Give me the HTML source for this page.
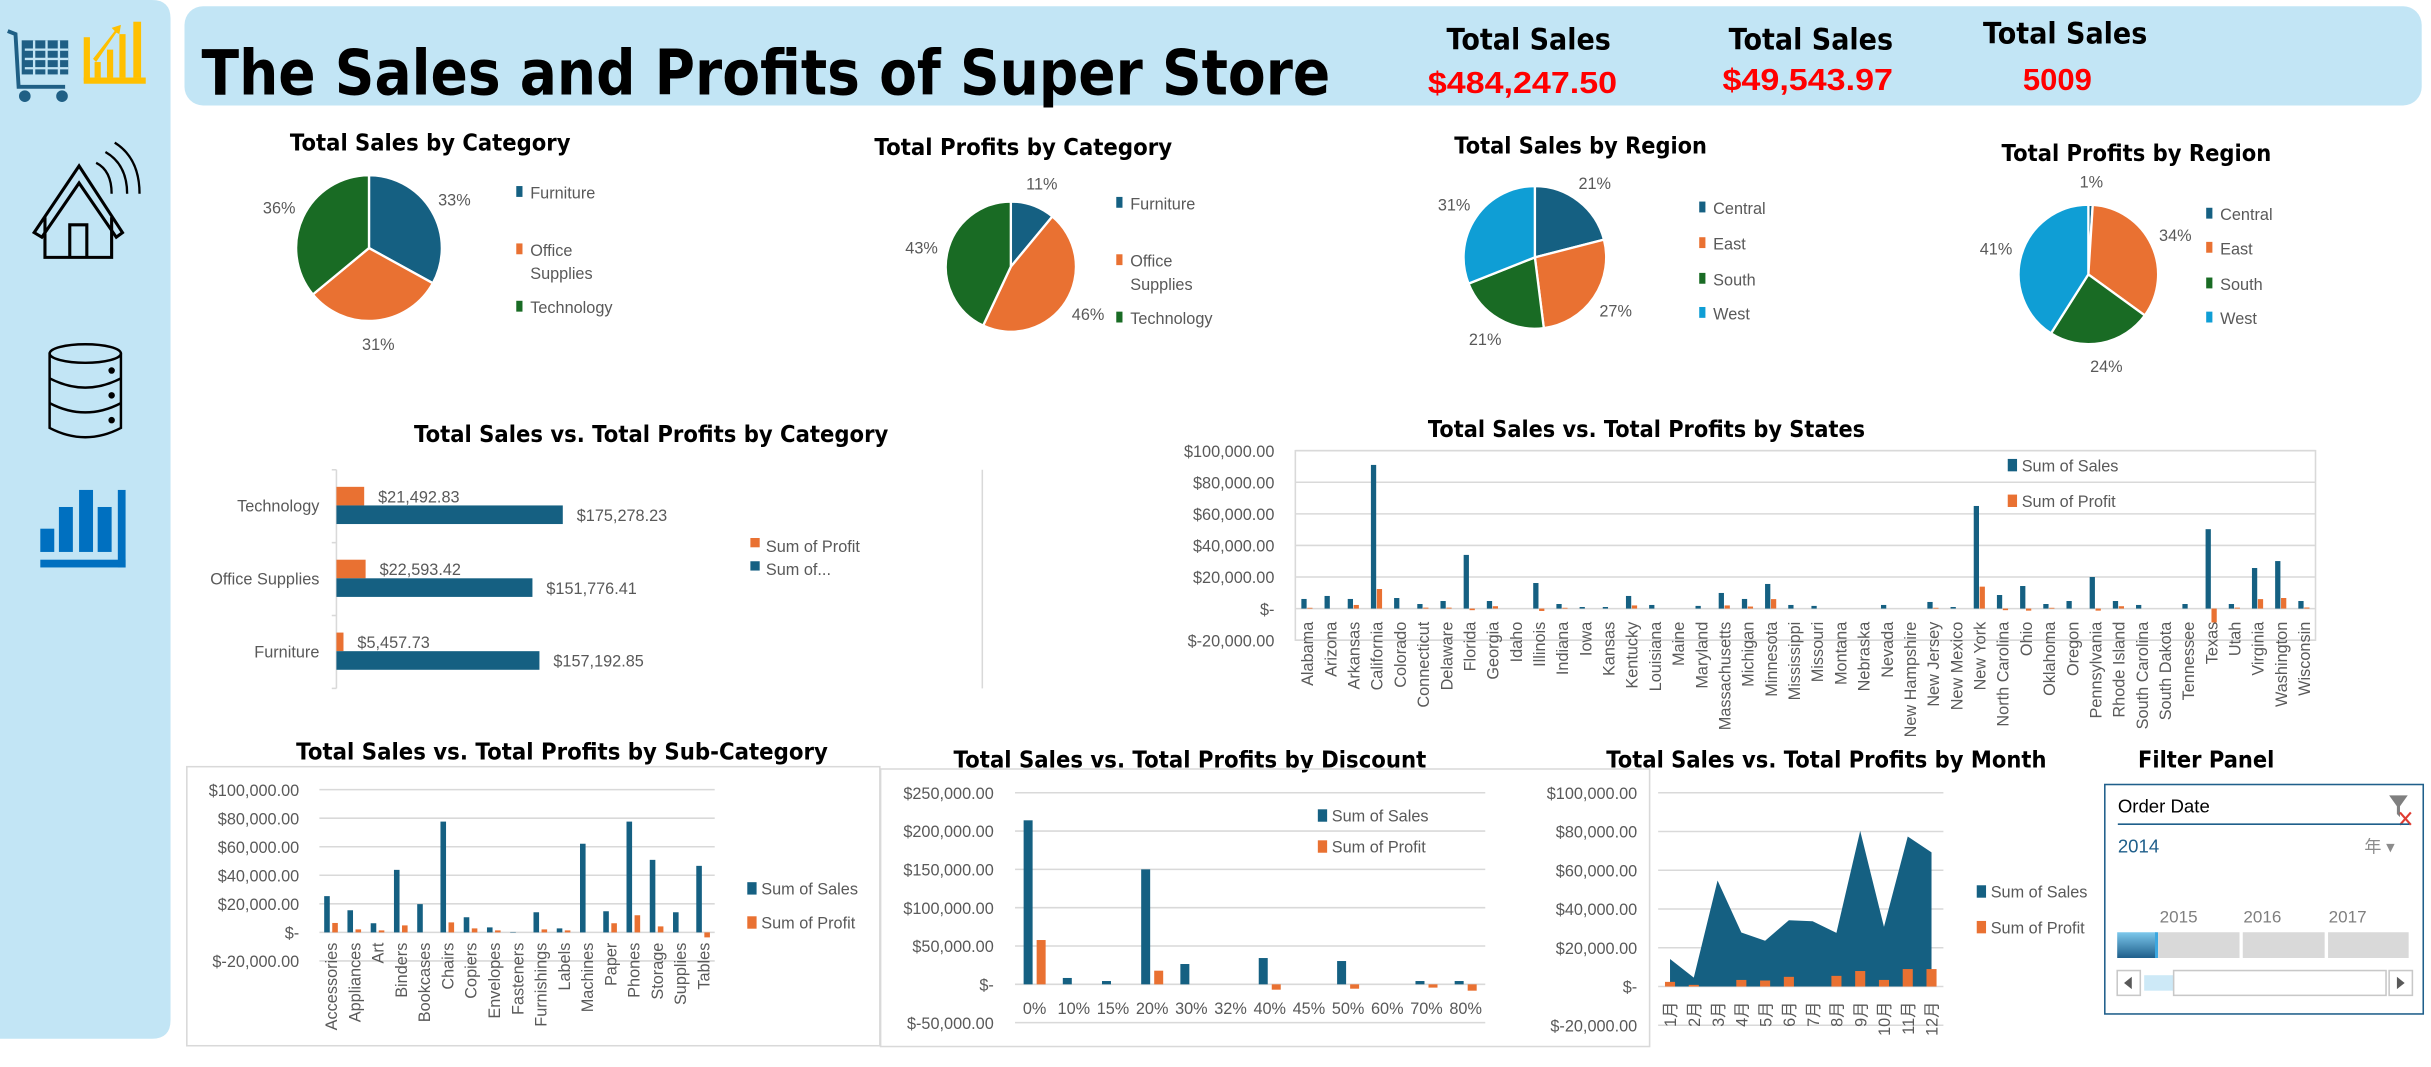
<!DOCTYPE html>
<html><head><meta charset="utf-8"><style>
html,body{margin:0;padding:0;background:#fff;}
svg{display:block;}
text{font-family:"Liberation Sans","Noto Sans CJK SC",sans-serif;}
.ax{fill:#595959;font-size:10.5px;}
.lg{fill:#595959;font-size:10.5px;}
.tt{font-family:"DejaVu Sans","Liberation Sans",sans-serif;font-weight:bold;fill:#000;}
</style></head><body>
<svg id="dash" width="2431" height="1067" viewBox="0 0 1568 688.2" xmlns="http://www.w3.org/2000/svg">
<rect x="0" y="0" width="1568" height="689" fill="#fff"/>
<g>
<path d="M0 0 H98 Q110 0 110 12 V658 Q110 670 98 670 H0 Z" fill="#c2e5f5"/>
<g fill="none" stroke="#1f5f85" stroke-width="2.5">
<path d="M5 20 L10 22 L12 56 L42 56"/><rect x="14" y="26" width="30" height="22" fill="#1f5f85" stroke="none"/>
<path d="M16 32 H44 M16 38 H44 M16 44 H44 M22 26 V50 M30 26 V50 M38 26 V50" stroke="#c2e5f5" stroke-width="1.5"/>
<circle cx="16" cy="62" r="2.5" fill="#1f5f85"/><circle cx="40" cy="62" r="2.5" fill="#1f5f85"/>
</g>
<g fill="#ffc000">
<rect x="54" y="24" width="4" height="28"/><rect x="54" y="50" width="40" height="4"/>
<rect x="61" y="40" width="4" height="10"/><rect x="69" y="32" width="4" height="18"/><rect x="77" y="22" width="4" height="28"/><rect x="86" y="14" width="5" height="36"/>
<path d="M60 38 L74 20 L72 18 L78 16 L77 22 L75 21 L62 40Z"/>
</g>
<g fill="none" stroke="#000" stroke-width="2">
<path d="M22 150 L51 107 L79 150 L75 153 L51 118 L27 153 Z"/><path d="M29 140 V166 H72 V140"/><path d="M45 166 V145 H56 V166"/>
<path d="M62 105 Q72 110 72 125 M68 98 Q82 106 82 125 M74 92 Q90 102 90 125" stroke-width="1.5"/>
</g>
<g fill="none" stroke="#000" stroke-width="1.6">
<ellipse cx="55" cy="228" rx="23" ry="6"/><path d="M32 228 V276 Q55 288 78 276 V228"/>
<path d="M32 244 Q55 256 78 244 M32 260 Q55 272 78 260"/>
<circle cx="72" cy="239" r="1.3" fill="#000"/><circle cx="72" cy="255" r="1.3" fill="#000"/><circle cx="72" cy="271" r="1.3" fill="#000"/>
</g>
<g fill="#0070c0">
<rect x="26" y="341" width="9" height="15"/><rect x="38" y="327" width="9" height="29"/><rect x="51" y="316" width="9" height="40"/><rect x="63" y="327" width="9" height="29"/>
<rect x="76" y="316" width="5" height="50"/><rect x="26" y="361" width="55" height="5"/>
</g>
</g>
<g>
<rect x="119" y="4" width="1443" height="64" rx="12" fill="#c2e5f5"/>
<text class="tt" x="130" y="61" font-size="40" textLength="728" lengthAdjust="spacingAndGlyphs">The Sales and Profits of Super Store</text>
<text class="tt" x="986" y="32" font-size="19" text-anchor="middle" textLength="106" lengthAdjust="spacingAndGlyphs">Total Sales</text>
<text x="982" y="60" font-size="20" font-weight="bold" fill="#ff0000" text-anchor="middle" textLength="122" lengthAdjust="spacingAndGlyphs">$484,247.50</text>
<text class="tt" x="1168" y="32" font-size="19" text-anchor="middle" textLength="106" lengthAdjust="spacingAndGlyphs">Total Sales</text>
<text x="1166" y="58" font-size="20" font-weight="bold" fill="#ff0000" text-anchor="middle" textLength="110" lengthAdjust="spacingAndGlyphs">$49,543.97</text>
<text class="tt" x="1332" y="28" font-size="19" text-anchor="middle" textLength="106" lengthAdjust="spacingAndGlyphs">Total Sales</text>
<text x="1327" y="58" font-size="20" font-weight="bold" fill="#ff0000" text-anchor="middle">5009</text>
</g>
<text class="tt" x="187" y="97" font-size="15" textLength="181" lengthAdjust="spacingAndGlyphs">Total Sales by Category</text>
<text class="tt" x="564" y="100" font-size="15" textLength="192" lengthAdjust="spacingAndGlyphs">Total Profits by Category</text>
<text class="tt" x="938" y="99" font-size="15" textLength="163" lengthAdjust="spacingAndGlyphs">Total Sales by Region</text>
<text class="tt" x="1291" y="104" font-size="15" textLength="174" lengthAdjust="spacingAndGlyphs">Total Profits by Region</text>
<text class="tt" x="267" y="285" font-size="15" textLength="306" lengthAdjust="spacingAndGlyphs">Total Sales vs. Total Profits  by Category</text>
<text class="tt" x="921" y="282" font-size="15" textLength="282" lengthAdjust="spacingAndGlyphs">Total Sales vs. Total Profits  by States</text>
<text class="tt" x="191" y="490" font-size="15" textLength="343" lengthAdjust="spacingAndGlyphs">Total Sales vs. Total Profits  by Sub-Category</text>
<text class="tt" x="615" y="495" font-size="15" textLength="305" lengthAdjust="spacingAndGlyphs">Total Sales vs. Total Profits  by Discount</text>
<text class="tt" x="1036" y="495" font-size="15" textLength="284" lengthAdjust="spacingAndGlyphs">Total Sales vs. Total Profits  by Month</text>
<text class="tt" x="1379" y="495" font-size="15" textLength="88" lengthAdjust="spacingAndGlyphs">Filter Panel</text>
<rect x="120.5" y="494.5" width="447" height="180" fill="none" stroke="#d9d9d9" stroke-width="1"/>
<rect x="568" y="496" width="496" height="179" fill="none" stroke="#d9d9d9" stroke-width="1"/>
<rect x="835.5" y="290.7" width="658" height="122.2" fill="none" stroke="#d9d9d9" stroke-width="1"/>
<line x1="633.6" y1="303" x2="633.6" y2="444" stroke="#d9d9d9"/>
<g id="charts"></g>
<g>
<rect x="1357.6" y="506" width="205.4" height="148" fill="#fff" stroke="#1f5f8b" stroke-width="1"/>
<text x="1366" y="524" font-size="12" fill="#000">Order Date</text>
<g><path d="M1541 513 H1553 L1548 520 V527 L1546 525 V520 Z" fill="#7f7f7f"/><path d="M1548 524 L1555 532 M1555 524 L1548 532" stroke="#e03c31" stroke-width="1.4"/></g>
<line x1="1366" y1="531.6" x2="1554" y2="531.6" stroke="#1f5f8b" stroke-width="1"/>
<text x="1366" y="550" font-size="12" fill="#1f5f8b">2014</text>
<text x="1525" y="550" font-size="11" fill="#8c8c8c">年 ▾</text>
<text x="1393" y="595" font-size="11" fill="#7f7f7f">2015</text>
<text x="1447" y="595" font-size="11" fill="#7f7f7f">2016</text>
<text x="1502" y="595" font-size="11" fill="#7f7f7f">2017</text>
<defs><linearGradient id="sel" x1="0" y1="0" x2="0" y2="1"><stop offset="0" stop-color="#7cc8ec"/><stop offset="1" stop-color="#1f5f8b"/></linearGradient></defs>
<rect x="1365.6" y="601.3" width="25.4" height="16.6" fill="url(#sel)"/>
<rect x="1390" y="601.3" width="2" height="16.6" fill="#3ba7e0"/>
<rect x="1392" y="601.3" width="52.5" height="16.6" fill="#d9d9d9"/>
<rect x="1446.6" y="601.3" width="52.8" height="16.6" fill="#d9d9d9"/>
<rect x="1501.6" y="601.3" width="52" height="16.6" fill="#d9d9d9"/>
<rect x="1365.6" y="626" width="14.9" height="16" fill="#fff" stroke="#c8c8c8"/>
<path d="M1375 630 L1370 634 L1375 638Z" fill="#595959"/>
<rect x="1383" y="629" width="19" height="10" fill="#cde9f7"/>
<rect x="1402" y="626" width="137" height="16" fill="#fff" stroke="#c8c8c8"/>
<rect x="1541" y="626" width="15" height="16" fill="#fff" stroke="#c8c8c8"/>
<path d="M1546 630 L1551 634 L1546 638Z" fill="#595959"/>
</g>
</svg>
<script>
const BLUE='#156082', ORANGE='#e97132', GREEN='#196b24', LBLUE='#0f9ed5';
const catNames=['Furniture','Office Supplies','Technology'];
const catSales=[157192.85,151776.41,175278.23];
const catProfit=[5457.73,22593.42,21492.83];
const catSalesPct=[33,31,36];
const catProfitPct=[11,46,43];
const regionNames=['Central','East','South','West'];
const regionSalesPct=[21,27,21,31];
const regionProfitPct=[1,34,24,41];
const stateNames=['Alabama','Arizona','Arkansas','California','Colorado','Connecticut','Delaware','Florida','Georgia','Idaho','Illinois','Indiana','Iowa','Kansas','Kentucky','Louisiana','Maine','Maryland','Massachusetts','Michigan','Minnesota','Mississippi','Missouri','Montana','Nebraska','Nevada','New Hampshire','New Jersey','New Mexico','New York','North Carolina','Ohio','Oklahoma','Oregon','Pennsylvania','Rhode Island','South Carolina','South Dakota','Tennessee','Texas','Utah','Virginia','Washington','Wisconsin'];
const stateSales=[6100,8000,6100,91000,6700,2900,4800,34000,4800,0,16200,2900,1000,1000,8000,2300,0,1700,9900,6100,15600,2300,1700,0,0,2300,0,4200,1000,65000,8600,14300,2900,4800,20000,4800,2300,0,2900,50300,2900,25700,30100,4800];
const stateProfit=[500,0,2300,12400,0,600,600,-1000,1500,0,-1500,500,0,0,2000,0,0,0,2000,1300,6000,0,0,0,0,0,0,500,0,13900,-1000,-1300,500,0,-1300,1500,0,0,0,-8800,600,6000,6700,700];
const stateTicks=['$100,000.00','$80,000.00','$60,000.00','$40,000.00','$20,000.00','$-','$-20,000.00'];
const stateTickVals=[100000,80000,60000,40000,20000,0,-20000];
const subNames=['Accessories','Appliances','Art','Binders','Bookcases','Chairs','Copiers','Envelopes','Fasteners','Furnishings','Labels','Machines','Paper','Phones','Storage','Supplies','Tables'];
const subSales=[25400,15500,6400,43800,19800,77600,10600,3500,300,14100,2800,62100,14800,77600,50800,14100,46600];
const subProfit=[6600,2100,1400,4900,0,7000,2800,1400,0,2100,1400,0,6400,12000,4200,0,-3500];
const subTicks=['$100,000.00','$80,000.00','$60,000.00','$40,000.00','$20,000.00','$-','$-20,000.00'];
const subTickVals=[100000,80000,60000,40000,20000,0,-20000];
const discNames=['0%','10%','15%','20%','30%','32%','40%','45%','50%','60%','70%','80%'];
const discSales=[214000,8300,4300,150000,26500,0,34300,0,30400,0,4300,4300];
const discProfit=[57800,0,0,17800,0,0,-7000,0,-5700,0,-4300,-8300];
const discTicks=['$250,000.00','$200,000.00','$150,000.00','$100,000.00','$50,000.00','$-','$-50,000.00'];
const discTickVals=[250000,200000,150000,100000,50000,0,-50000];
const monthNames=['1月','2月','3月','4月','5月','6月','7月','8月','9月','10月','11月','12月'];
const monthSales=[14200,4600,54700,27900,23600,34200,33700,27700,80300,30800,77400,69200];
const monthProfit=[2400,850,0,3400,3100,5000,0,5500,8000,3400,9000,9000];
const monthTicks=['$100,000.00','$80,000.00','$60,000.00','$40,000.00','$20,000.00','$-','$-20,000.00'];
const monthTickVals=[100000,80000,60000,40000,20000,0,-20000];

const NS='http://www.w3.org/2000/svg';
const root=document.getElementById('charts');
function mk(tag,attrs,parent){const e=document.createElementNS(NS,tag);for(const k in attrs)e.setAttribute(k,attrs[k]);(parent||root).appendChild(e);return e;}
function lin(d0,d1,r0,r1){return v=>r0+(v-d0)/(d1-d0)*(r1-r0);}

function pie(cx,cy,r,names,vals,colors,name,lx,ly){
  const g=mk('g',{});
  
  
  const tot=vals.reduce((a,b)=>a+b,0);let a0=-Math.PI/2;
  vals.forEach((v,i)=>{
    const a1=a0+v/tot*2*Math.PI;
    const x0=cx+r*Math.cos(a0),y0=cy+r*Math.sin(a0),x1=cx+r*Math.cos(a1),y1=cy+r*Math.sin(a1);
    const p=mk('path',{d:`M${cx} ${cy} L${x0} ${y0} A${r} ${r} 0 ${a1-a0>Math.PI?1:0} 1 ${x1} ${y1} Z`,fill:colors[i],stroke:'#fff','stroke-width':1.5},g);
    
    
    const am=(a0+a1)/2;
    const t=mk('text',{x:cx+(r+17)*Math.cos(am),y:cy+(r+15)*Math.sin(am)+4,'text-anchor':'middle',class:'lg','font-size':11},g);
    t.textContent=Math.round(v/tot*100)+'%';
    
    
    a0=a1;
  });
  names.forEach((n,i)=>{
    const y=ly[i];
    const s=mk('rect',{x:lx,y:y-8,width:4,height:7,fill:colors[i]},g);
    
    
    const parts=(n==='Office Supplies')?['Office','Supplies']:[n];
    parts.forEach((p,j)=>{
      const t=mk('text',{x:lx+9,y:y+j*15,class:'lg'},g);
      t.textContent=p;
      
      
    });
  });
}
pie(238,160,47,catNames,catSalesPct,[BLUE,ORANGE,GREEN],'pie-sales-by-category',333,[128,165,202]);
pie(652,172,42,catNames,catProfitPct,[BLUE,ORANGE,GREEN],'pie-profits-by-category',720,[135,172,209]);
pie(990,166,46,regionNames,regionSalesPct,[BLUE,ORANGE,GREEN,LBLUE],'pie-sales-by-region',1096,[138,161,184,206]);
pie(1347,177,45,regionNames,regionProfitPct,[BLUE,ORANGE,GREEN,LBLUE],'pie-profits-by-region',1423,[142,164,187,209]);

(function(){
  const x=lin(0,175278.23,217,363);
  const order=[2,1,0];const centers=[326,373,420];
  mk('line',{x1:217,y1:303,x2:217,y2:444,stroke:'#d9d9d9'});
  [303,350,397,444].forEach(y=>mk('line',{x1:214,y1:y,x2:217,y2:y,stroke:'#d9d9d9'}));
  order.forEach((ci,k)=>{
    const c=centers[k];
    const pb=mk('rect',{x:217,y:c-12,width:x(catProfit[ci])-217,height:12,fill:ORANGE});
    
    
    const sb=mk('rect',{x:217,y:c,width:x(catSales[ci])-217,height:12,fill:BLUE});
    
    
    const fmt=v=>'$'+v.toLocaleString('en-US',{minimumFractionDigits:2,maximumFractionDigits:2});
    const t1=mk('text',{x:x(catProfit[ci])+9,y:c-2,class:'lg','font-size':11});t1.textContent=fmt(catProfit[ci]);
    
    
    const t2=mk('text',{x:x(catSales[ci])+9,y:c+10,class:'lg','font-size':11});t2.textContent=fmt(catSales[ci]);
    
    
    const t3=mk('text',{x:206,y:c+4,class:'lg','font-size':11,'text-anchor':'end'});t3.textContent=catNames[ci];
    
    
  });
  const l1=mk('rect',{x:484,y:347,width:6,height:6,fill:ORANGE});
  
  
  const l2=mk('rect',{x:484,y:362,width:6,height:6,fill:BLUE});
  
  
  const lt1=mk('text',{x:494,y:356,class:'lg'});lt1.textContent='Sum of Profit';
  
  
  const lt2=mk('text',{x:494,y:371,class:'lg'});lt2.textContent='Sum of...';
  
  
})();

function columnChart(o){
  const y=lin(o.vmax,o.vmin,o.yTop,o.yBot);
  const n=o.cats.length, step=(o.x1-o.x0)/n;
  o.tickVals.forEach((tv,i)=>{
    const gl=mk('line',{x1:o.x0,y1:y(tv),x2:o.x1,y2:y(tv),stroke:'#d9d9d9','stroke-width':1});
    
    
    const t=mk('text',{x:o.labX,y:y(tv)+4,class:'ax','text-anchor':'end','font-size':o.fs||10.5});t.textContent=o.ticks[i];
    
    
  });
  if(o.area){
    let d='M'+(o.x0+step/2)+' '+y(0);
    o.sales.forEach((v,i)=>{d+=' L'+(o.x0+step*(i+0.5))+' '+y(v);});
    d+=' L'+(o.x0+step*(n-0.5))+' '+y(0)+' Z';
    const a=mk('path',{d:d,fill:BLUE});
    
    
  }
  o.cats.forEach((c,i)=>{
    const cx=o.x0+step*(i+0.5);
    if(!o.area){
      const v=o.sales[i];
      const b=mk('rect',{x:cx-o.bw-o.gap/2,y:Math.min(y(v),y(0)),width:o.bw,height:Math.abs(y(v)-y(0)),fill:BLUE});
      
      
    }
    const pv=o.profit[i];
    const px=o.area?cx-o.bw/2:cx+o.gap/2;
    const b2=mk('rect',{x:px,y:Math.min(y(pv),y(0)),width:o.bw,height:Math.abs(y(pv)-y(0)),fill:ORANGE});
    
    
    let t;
    if(o.rotate){
      t=mk('text',{x:0,y:0,class:'ax','text-anchor':'end','font-size':o.xfs||10.5,transform:`translate(${cx+4},${o.labY}) rotate(-90)`});
    } else {
      t=mk('text',{x:cx,y:o.labY,class:'ax','text-anchor':'middle','font-size':o.xfs||10.5});
    }
    t.textContent=c;
    
    
  });
  o.legend.forEach((lg,i)=>{
    const s=mk('rect',{x:lg[0],y:lg[1]-8,width:6,height:8,fill:i?ORANGE:BLUE});
    
    
    const t=mk('text',{x:lg[0]+9,y:lg[1],class:'lg'});t.textContent=i?'Sum of Profit':'Sum of Sales';
    
    
  });
}
columnChart({cats:stateNames,sales:stateSales,profit:stateProfit,ticks:stateTicks,tickVals:stateTickVals,vmax:100000,vmin:-20000,yTop:290.7,yBot:412.9,x0:835.5,x1:1493.5,labX:822,bw:3.4,gap:0.4,rotate:true,labY:401,xfs:10,legend:[[1295,304],[1295,327]]});
columnChart({cats:subNames,sales:subSales,profit:subProfit,ticks:subTicks,tickVals:subTickVals,vmax:100000,vmin:-20000,yTop:509.3,yBot:619.8,x0:206,x1:461,labX:193,bw:3.6,gap:1.6,rotate:true,labY:608,xfs:10.5,legend:[[482,577],[482,599]]});
columnChart({cats:discNames,sales:discSales,profit:discProfit,ticks:discTicks,tickVals:discTickVals,vmax:250000,vmin:-50000,yTop:511.3,yBot:659.6,x0:654.7,x1:958,labX:641,bw:5.8,gap:2.6,rotate:false,labY:654,xfs:11,legend:[[850,530],[850,550]]});
columnChart({cats:monthNames,sales:monthSales,profit:monthProfit,ticks:monthTicks,tickVals:monthTickVals,vmax:100000,vmin:-20000,yTop:511.3,yBot:661.3,x0:1069.5,x1:1253.5,labX:1056,bw:6.5,gap:0,area:true,rotate:true,labY:646,xfs:10,legend:[[1275,579],[1275,602]]});
</script>
</body></html>
